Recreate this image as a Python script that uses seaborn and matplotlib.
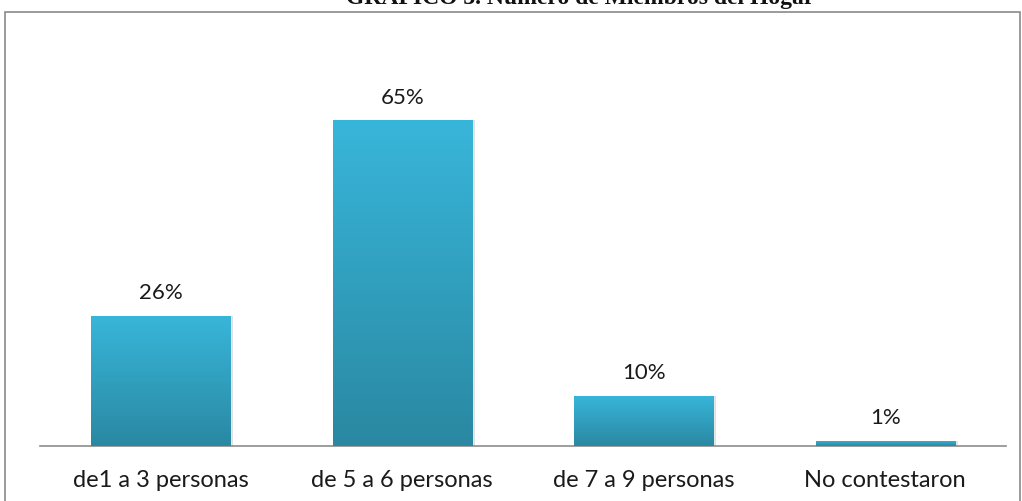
import numpy as np
import pandas as pd
import seaborn as sns
import matplotlib
matplotlib.use('Agg')
import matplotlib.pyplot as plt
from matplotlib.patches import Rectangle
from matplotlib.colors import LinearSegmentedColormap

categorias = ['de1 a 3 personas', 'de 5 a 6 personas', 'de 7 a 9 personas', 'No contestaron']
porcentajes = [26, 65, 10, 1]
etiquetas = ['26%', '65%', '10%', '1%']
titulo = 'GRÁFICO 3. Número de Miembros del Hogar'

sns.set_style('white')
plt.rcParams['font.family'] = ['Lato', 'DejaVu Sans']

df = pd.DataFrame({'cat': categorias, 'pct': porcentajes})

fig = plt.figure(figsize=(10.22, 5.01), dpi=100)
W, H = 1022, 501
# eje: base en y=446 px, arriba en 45 px (ylim 0..80)
ax = fig.add_axes([40 / W, (H - 446) / H, (1006 - 40) / W, (446 - 45) / H])

sns.barplot(data=df, x='cat', y='pct', color='#33a9cc', width=0.576, ax=ax, saturation=1)
ax.set_ylim(0, 80)
ax.set_xlim(-0.5, 3.5)

# gradiente en las barras
cmap = LinearSegmentedColormap.from_list('g', ['#2a88a2', '#38b6da'])
grad = np.linspace(0, 1, 256).reshape(-1, 1)
for p in list(ax.patches):
    x0, y0 = p.get_x(), p.get_y()
    w, h = p.get_width(), p.get_height()
    # sombra suave
    sh = Rectangle((x0 + 0.012, y0), w, h, facecolor='#000000', alpha=0.12,
                   edgecolor='none', zorder=1)
    ax.add_patch(sh)
    p.set_zorder(2)
    im = ax.imshow(grad, extent=[x0, x0 + w, y0, y0 + h], origin='lower',
                   cmap=cmap, aspect='auto', zorder=3)
    im.set_clip_path(p)

for i, (v, lab) in enumerate(zip(porcentajes, etiquetas)):
    ax.annotate(lab, (i, v), xytext=(0, 9), textcoords='offset points',
                ha='center', va='bottom', fontsize=16, color='#1a1a1a')

sns.despine(ax=ax, left=True, top=True, right=True)
ax.spines['bottom'].set_color('#8c8c8c')
ax.spines['bottom'].set_linewidth(1.2)
ax.set_yticks([])
ax.set_xlabel('')
ax.set_ylabel('')
ax.tick_params(axis='x', length=0, pad=17, labelsize=17, labelcolor='#1a1a1a')

# marco exterior
fig.patches.append(Rectangle((5 / W, -0.01), (1020 - 5) / W, (H - 12) / H + 0.01,
                             transform=fig.transFigure, fill=False,
                             edgecolor='#8a8a8a', linewidth=1.2))
# titulo recortado arriba, como en la imagen original
fig.text(580 / W, (H - 4) / H, titulo, ha='center', va='baseline', fontsize=17,
         fontweight='bold', family='Liberation Serif', color='#111111')

fig.savefig('out.png', dpi=100)
